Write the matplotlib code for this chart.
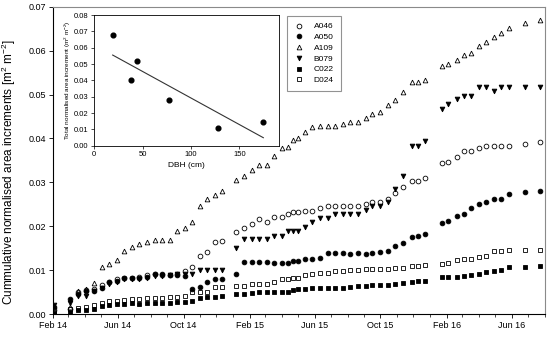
import matplotlib
matplotlib.use("Agg")
import matplotlib.pyplot as plt
import matplotlib.dates as mdates
import numpy as np
import pandas as pd

plt.rcParams['font.family'] = ['Liberation Sans', 'DejaVu Sans']
plt.rcParams['mathtext.fontset'] = 'custom'
plt.rcParams['mathtext.rm'] = 'Liberation Sans'
plt.rcParams['mathtext.it'] = 'Liberation Sans:italic'

dates = pd.to_datetime([
    "2014-02-03", "2014-03-05", "2014-03-20", "2014-04-03", "2014-04-18", "2014-05-02",
    "2014-05-16", "2014-05-31", "2014-06-13", "2014-06-27", "2014-07-11", "2014-07-25",
    "2014-08-09", "2014-08-22", "2014-09-05", "2014-09-19", "2014-10-03", "2014-10-17",
    "2014-10-31", "2014-11-14", "2014-11-28", "2014-12-11",
    "2015-01-07", "2015-01-21", "2015-02-04", "2015-02-18", "2015-03-04", "2015-03-18",
    "2015-04-01", "2015-04-12", "2015-04-21", "2015-05-01", "2015-05-14", "2015-05-28",
    "2015-06-11", "2015-06-25", "2015-07-09", "2015-07-23", "2015-08-06", "2015-08-20",
    "2015-09-04", "2015-09-16", "2015-10-01", "2015-10-15", "2015-10-28", "2015-11-12",
    "2015-11-28", "2015-12-10", "2015-12-23",
    "2016-01-23", "2016-02-03", "2016-02-20", "2016-03-03", "2016-03-17", "2016-03-31",
    "2016-04-14", "2016-04-28", "2016-05-12", "2016-05-26", "2016-06-24", "2016-07-23",
])

A046 = [.001, .0012, .0049, .0055, .0058, .0067, .0072, .0079, .0083, .0083, .0084, .0088,
        .009, .0089, .0088, .009, .0099, .0108, .0132, .0142, .0163, .0166,
        .0186, .0195, .0206, .0216, .021, .022, .022, .0228, .0232, .0232, .0235, .0235,
        .0241, .0246, .0246, .0246, .0246, .0246, .0251, .0256, .0256, .0263, .0275, .029,
        .0304, .0304, .0309,
        .0343, .0347, .0358, .0372, .0372, .0377, .0383, .0383, .0383, .0383, .0387, .0391]
A050 = [.0015, .0034, .0046, .0052, .0053, .006, .0074, .0075, .0083, .0083, .0083, .0085,
        .009, .009, .0089, .0088, .0086, .0058, .0062, .0074, .008, .008,
        .0091, .0118, .0118, .0118, .0118, .0117, .0117, .0117, .0121, .0121, .0125, .0125,
        .0127, .014, .014, .014, .0136, .014, .0136, .014, .0142, .0144, .0155, .0162,
        .0175, .0178, .0182,
        .0207, .0212, .0224, .0227, .0241, .025, .0256, .0262, .0263, .0273, .0277, .0281]
A109 = [.0018, .0015, .0053, .0058, .0071, .0106, .0113, .0123, .0143, .0152, .016, .0164,
        .0168, .0168, .0168, .0189, .0196, .021, .0247, .0262, .027, .028,
        .0305, .0315, .0327, .0339, .0339, .036, .0377, .0381, .0396, .0402, .0414, .0425,
        .0429, .0429, .0429, .0433, .0438, .0438, .0446, .0456, .0461, .0476, .0487, .0505,
        .0529, .0529, .0533,
        .0566, .0569, .0579, .059, .0595, .0611, .0619, .0632, .0639, .0651, .0664, .067]
B079 = [.002, .0024, .004, .004, .0053, .006, .0068, .0073, .008, .0079, .0079, .0082,
        .0087, .0087, .0089, .009, .0092, .0092, .01, .01, .01, .01,
        .015, .017, .017, .017, .017, .0178, .0178, .0189, .0189, .0189, .0199, .0209,
        .0218, .0218, .0228, .0228, .0228, .0228, .0237, .0247, .0247, .0256, .0284, .0315,
        .0383, .0383, .0393,
        .0468, .0478, .0489, .0497, .0497, .0516, .0516, .0509, .0516, .0516, .0516, .0516]
C022 = [.0003, .0005, .0009, .0009, .0012, .0018, .002, .0023, .0023, .0024, .0022, .0024,
        .0024, .0026, .0026, .0028, .0028, .003, .0036, .0038, .0038, .0042,
        .0045, .0045, .0047, .005, .005, .0049, .0051, .0051, .0055, .0056, .0056, .006,
        .006, .006, .006, .006, .0062, .0064, .0064, .0065, .0065, .0065, .0068, .0071,
        .0073, .0075, .0076,
        .0084, .0084, .0085, .0087, .0089, .0091, .0095, .0099, .01, .0106, .0106, .0109]
D024 = [.0005, .0011, .0014, .0017, .002, .0026, .003, .003, .0033, .0035, .0035, .0037,
        .0037, .0037, .0039, .0039, .0042, .0051, .0049, .005, .0062, .0062,
        .0064, .0064, .0068, .0068, .0068, .0072, .008, .008, .0083, .0083, .0089, .009,
        .0093, .0094, .0098, .0098, .01, .01, .0102, .0102, .0102, .0102, .0104, .0104,
        .0109, .0109, .0111,
        .0115, .0117, .0123, .0125, .0125, .0129, .0133, .0144, .0144, .0146, .0146, .0146]

series_names = ["A046", "A050", "A109", "B079", "C022", "D024"]
series_vals = [A046, A050, A109, B079, C022, D024]
markers = ["o", "o", "^", "v", "s", "s"]
filled = [False, True, False, True, True, False]

# inset data
dbh = [19, 37.6, 43.8, 77.3, 128.3, 174.8]
total_inc = [0.068, 0.040, 0.052, 0.028, 0.011, 0.0148]

fig = plt.figure(figsize=(5.5, 3.37), dpi=100)
ax = fig.add_axes([53/550, 1-314/337, 492/550, 307.3/337])

for name, vals, m, f in zip(series_names, series_vals, markers, filled):
    ax.plot(dates, vals, linestyle='none', marker=m, markersize=3.4 if m != 's' else 3.0,
            markerfacecolor='black' if f else 'none', markeredgecolor='black',
            markeredgewidth=0.6, label=name)

ax.set_xlim(pd.Timestamp("2014-02-01"), pd.Timestamp("2016-08-01"))
ax.set_ylim(0, 0.07)
ax.set_yticks(np.arange(0, 0.0701, 0.01))
ax.yaxis.set_major_formatter(matplotlib.ticker.FormatStrFormatter('%.2f'))
ax.xaxis.set_major_locator(mdates.MonthLocator(bymonth=[2, 6, 10]))
ax.xaxis.set_minor_locator(mdates.MonthLocator())
ax.xaxis.set_major_formatter(mdates.DateFormatter('%b %y'))
ax.tick_params(axis='both', which='major', labelsize=6.5, length=3, width=0.6, direction='out', pad=2)
ax.tick_params(axis='x', which='minor', length=2, width=0.5, direction='out')
ax.set_ylabel(r'Cummulative normalised area increments [m$^2$ m$^{-2}$]', fontsize=8.5)
ax.yaxis.set_label_coords(-0.072, 0.46)
for s in ['left', 'bottom']:
    ax.spines[s].set_linewidth(0.8)
for s in ['top', 'right']:
    ax.spines[s].set_color('#8a8a8a')
    ax.spines[s].set_linewidth(0.8)

leg = ax.legend(loc='upper left', bbox_to_anchor=(0.476, 0.97), borderaxespad=0,
                fontsize=6, frameon=True, fancybox=False, handlelength=1.2,
                handletextpad=1.2, labelspacing=0.35, borderpad=0.8)
leg.get_frame().set_edgecolor('#777777')
leg.get_frame().set_linewidth(0.8)

# inset
ins = fig.add_axes([94.3/550, 1-145.7/337, (279-94.3)/550, (145.7-15)/337])
ins.plot(dbh, total_inc, linestyle='none', marker='o', markersize=3.4, color='black')
coef = np.polyfit(dbh, total_inc, 1)
xl = np.array([min(dbh), max(dbh)])
ins.plot(xl, np.polyval(coef, xl), color='#333333', linewidth=0.8)
ins.set_xlim(0, 191)
ins.set_ylim(0, 0.08)
ins.set_xticks([0, 50, 100, 150])
ins.set_yticks(np.arange(0, 0.0801, 0.01))
ins.yaxis.set_major_formatter(matplotlib.ticker.FormatStrFormatter('%.2f'))
ins.tick_params(labelsize=5.5, length=2.5, width=0.5, pad=1.5)
ins.set_xlabel('DBH (cm)', fontsize=6, labelpad=3)
ins.set_ylabel(r'Total normalised area increment (m$^2$ m$^{-2}$)', fontsize=4.6, labelpad=1)
for s in ins.spines.values():
    s.set_linewidth(0.6)

fig.savefig("out.png", dpi=100)
